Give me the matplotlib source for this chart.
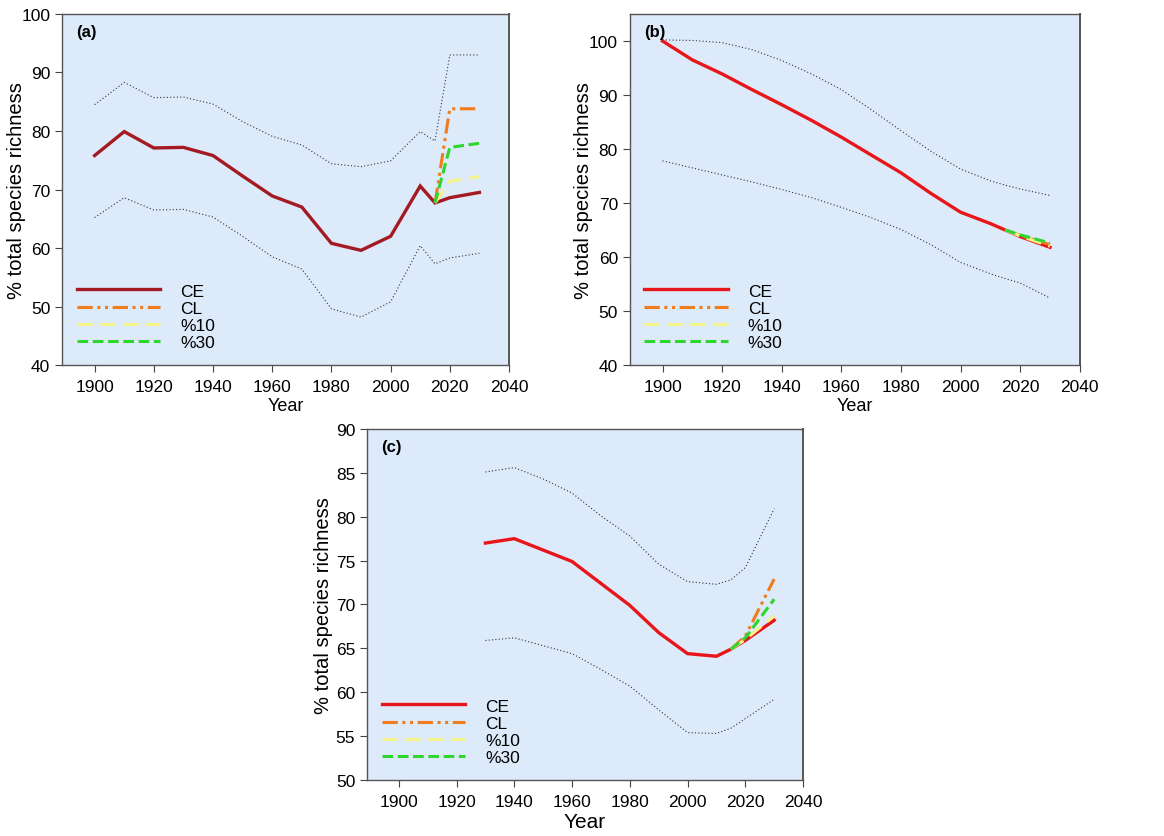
import matplotlib
matplotlib.use('Agg')
import matplotlib.pyplot as plt

plt.rcParams['font.family'] = ['Liberation Sans', 'DejaVu Sans']

# 面板(a)
years_a = [1900, 1910, 1920, 1930, 1940, 1950, 1960, 1970, 1980, 1990, 2000, 2010, 2015, 2020, 2030]
ce_a = [75.8, 79.9, 77.1, 77.2, 75.8, 72.3, 68.9, 67.0, 60.8, 59.6, 62.0, 70.6, 67.7, 68.6, 69.5]
up_a = [84.5, 88.3, 85.7, 85.8, 84.6, 81.6, 79.1, 77.6, 74.4, 73.9, 74.9, 79.9, 78.3, 93.0, 93.0]
lo_a = [65.2, 68.6, 66.5, 66.6, 65.3, 62.0, 58.5, 56.4, 49.6, 48.2, 50.8, 60.4, 57.3, 58.3, 59.1]
proj_years_a = [2015, 2020, 2030]
cl_a = [67.7, 83.8, 83.8]
p10_a = [67.7, 71.4, 72.2]
p30_a = [67.7, 77.2, 77.9]

# 面板(b)
years_b = [1900, 1910, 1920, 1930, 1940, 1950, 1960, 1970, 1980, 1990, 2000, 2010, 2015, 2020, 2030]
ce_b = [100.0, 96.5, 93.9, 91.0, 88.2, 85.3, 82.2, 78.9, 75.6, 71.8, 68.3, 66.2, 65.0, 63.8, 61.8]
up_b = [100.2, 100.1, 99.7, 98.4, 96.4, 93.9, 91.0, 87.3, 83.4, 79.6, 76.3, 74.1, 73.3, 72.6, 71.4]
lo_b = [77.8, 76.5, 75.2, 73.9, 72.5, 71.0, 69.2, 67.3, 65.1, 62.3, 59.0, 56.9, 56.0, 55.2, 52.4]
proj_years_b = [2015, 2020, 2030]
cl_b = [65.0, 64.0, 62.3]
p10_b = [65.0, 63.9, 62.0]
p30_b = [65.0, 64.1, 62.6]

# 面板(c)
years_c = [1930, 1940, 1950, 1960, 1970, 1980, 1990, 2000, 2010, 2015, 2020, 2030]
ce_c = [77.0, 77.5, 76.2, 74.9, 72.4, 69.9, 66.8, 64.4, 64.1, 64.9, 65.9, 68.2]
up_c = [85.1, 85.6, 84.3, 82.7, 80.1, 77.8, 74.6, 72.6, 72.3, 72.8, 74.2, 80.9]
lo_c = [65.9, 66.2, 65.3, 64.4, 62.6, 60.7, 58.0, 55.4, 55.3, 55.9, 57.0, 59.2]
proj_years_c = [2015, 2020, 2030]
cl_c = [64.9, 66.4, 72.9]
p10_c = [64.9, 66.0, 68.7]
p30_c = [64.9, 66.2, 70.6]

labels = ['CE', 'CL', '%10', '%30']
bg = '#dceaf9'
ce_colors = ['#a31a22', '#e8161b', '#e8161b']


def draw_panel(ax, years, ce, up, lo, pyears, cl, p10, p30, ce_color, tag, ylim, yticks,
               xlabel_size, ylabel_x):
    ax.set_facecolor(bg)
    ax.plot(years, up, color='#333333', lw=0.8, ls=(0, (1, 2)))
    ax.plot(years, lo, color='#333333', lw=0.8, ls=(0, (1, 2)))
    h1, = ax.plot(years, ce, color=ce_color, lw=2.4, solid_joinstyle='miter')
    h2, = ax.plot(pyears, cl, color='#f07c1c', lw=2.2, ls=(0, (5, 1.5, 1, 1.5, 1, 1.5)))
    h3, = ax.plot(pyears, p10, color='#f4f28a', lw=2.2, ls=(0, (5, 2.5)))
    h4, = ax.plot(pyears, p30, color='#2fd62f', lw=2.2, ls=(0, (3.5, 1.5)))
    ax.set_xlim(1889, 2040)
    ax.set_ylim(*ylim)
    ax.set_xticks(range(1900, 2041, 20))
    ax.set_yticks(yticks)
    ax.tick_params(labelsize=12.5, direction='out', length=5, color='#444444')
    ax.tick_params(axis='x', pad=5)
    for s in ax.spines.values():
        s.set_color('#555555')
        s.set_linewidth(1.0)
    ax.spines['right'].set_linewidth(1.4)
    ax.set_xlabel('Year', fontsize=xlabel_size, labelpad=2)
    ax.set_ylabel('% total species richness', fontsize=14.5)
    ax.yaxis.set_label_coords(ylabel_x, 0.5)
    ax.text(0.032, 0.972, tag, transform=ax.transAxes, fontsize=12, fontweight='bold', va='top')
    ax.legend([h1, h2, h3, h4], labels, loc='lower left', bbox_to_anchor=(0.0, 0.0),
              frameon=False, fontsize=12.5, handlelength=4.8, handletextpad=1.15,
              labelspacing=0.12, borderaxespad=0.45)


fig = plt.figure(figsize=(11.64, 8.37), dpi=100)
ax_a = fig.add_axes([0.0533, 0.5627, 0.384, 0.4194])
ax_b = fig.add_axes([0.541, 0.5627, 0.3866, 0.4194])
ax_c = fig.add_axes([0.3153, 0.0669, 0.3746, 0.4194])

draw_panel(ax_a, years_a, ce_a, up_a, lo_a, proj_years_a, cl_a, p10_a, p30_a,
           ce_colors[0], '(a)', (40, 100), range(40, 101, 10), 13, -0.08)
draw_panel(ax_b, years_b, ce_b, up_b, lo_b, proj_years_b, cl_b, p10_b, p30_b,
           ce_colors[1], '(b)', (40, 105), range(40, 101, 10), 13, -0.082)
draw_panel(ax_c, years_c, ce_c, up_c, lo_c, proj_years_c, cl_c, p10_c, p30_c,
           ce_colors[2], '(c)', (50, 90), range(50, 91, 5), 15, -0.078)

fig.savefig('out.png', dpi=100)
